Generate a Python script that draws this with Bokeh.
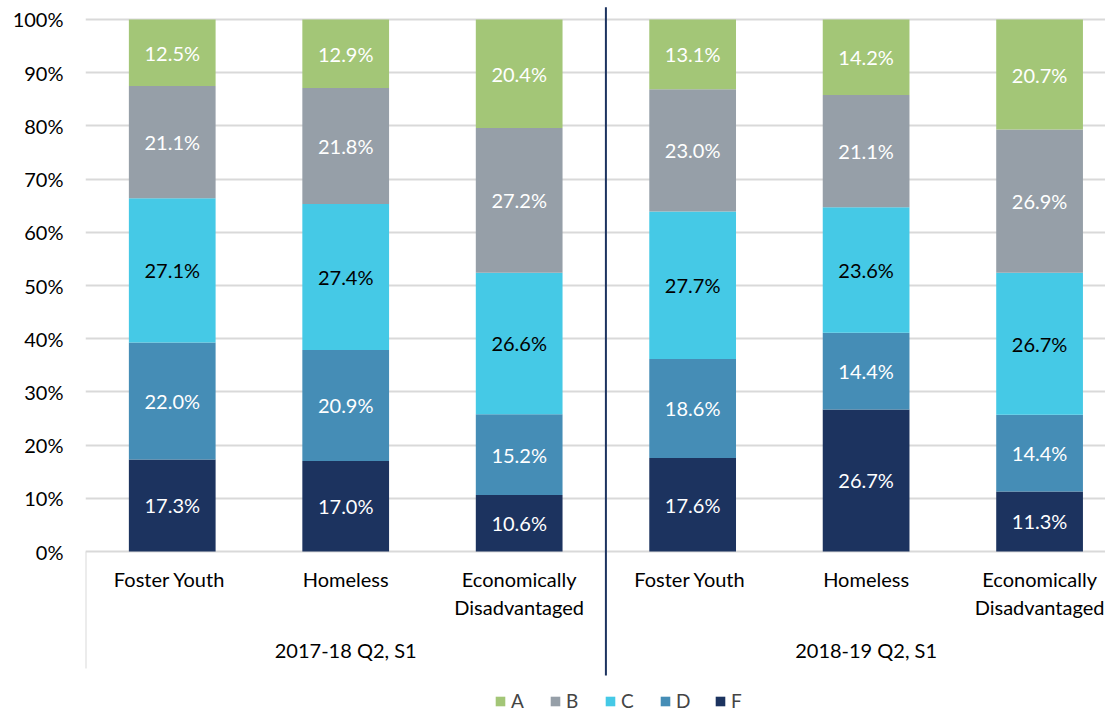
import numpy as np
from bokeh.plotting import figure
from bokeh.models import ColumnDataSource, Range1d, FixedTicker, Legend, LegendItem
from bokeh.core.properties import value
from bokeh.embed import file_html
from bokeh.resources import INLINE

# ---------------- data ----------------
groups = ["2017-18 Q2, S1", "2018-19 Q2, S1"]
categories = ["Foster  Youth", "Homeless", "Economically\nDisadvantaged"]
grades = ["A", "B", "C", "D", "F"]
A = [12.5, 12.9, 20.4, 13.1, 14.2, 20.7]
B = [21.1, 21.8, 27.2, 23.0, 21.1, 26.9]
C = [27.1, 27.4, 26.6, 27.7, 23.6, 26.7]
D = [22.0, 20.9, 15.2, 18.6, 14.4, 14.4]
F = [17.3, 17.0, 10.6, 17.6, 26.7, 11.3]
y_ticks = list(range(0, 101, 10))

colors = {"A": "#A3C677", "B": "#969FA8", "C": "#45C9E6", "D": "#458DB6", "F": "#1C335F"}
label_colors = {"A": "white", "B": "white", "C": "black", "D": "white", "F": "white"}
FONT = value("Lato")

series = {"A": A, "B": B, "C": C, "D": D, "F": F}
n = len(groups) * len(categories)
xs = np.arange(n) + 0.5

src = ColumnDataSource(dict(x=xs, **{g: series[g] for g in grades}))

Y_TOP = 103.57
Y_BOT = -30.26
p = figure(width=1105, height=712, output_backend="svg", toolbar_location=None,
           x_range=Range1d(0, 5.88), y_range=Range1d(Y_BOT, Y_TOP),
           min_border_left=85, min_border_right=0, min_border_top=0, min_border_bottom=0,
           x_axis_location=None)
p.outline_line_color = None
p.xgrid.visible = False
p.ygrid.grid_line_color = "#d9d9d9"
p.ygrid.grid_line_width = 2

yax = p.yaxis[0]
yax.ticker = FixedTicker(ticks=y_ticks)
yax.major_label_overrides = {t: f"{t}%" for t in y_ticks}
yax.axis_line_color = None
yax.major_tick_line_color = None
yax.minor_tick_line_color = None
yax.major_label_standoff = 16
yax.major_label_text_font = "Lato"
yax.major_label_text_font_size = "20px"
yax.major_label_text_color = "black"

stack_order = ["F", "D", "C", "B", "A"]
rends = p.vbar_stack(stack_order, x="x", width=0.5, color=[colors[g] for g in stack_order],
                     line_color=None, source=src)
rmap = dict(zip(stack_order, rends))

# segment labels
lx, ly, lt, lc = [], [], [], []
bottom = np.zeros(n)
for g in stack_order:
    vals = np.array(series[g])
    mid = bottom + vals / 2
    for i in range(n):
        lx.append(xs[i]); ly.append(mid[i]); lt.append(f"{vals[i]:.1f}%"); lc.append(label_colors[g])
    bottom = bottom + vals
lab = ColumnDataSource(dict(x=lx, y=ly, text=lt, color=lc))
p.text(x="x", y="y", text="text", text_color="color", source=lab, text_align="center",
       text_baseline="middle", text_font=FONT, text_font_size="20px")

# category labels
cat_src = ColumnDataSource(dict(x=xs, y=np.zeros(n), text=categories * len(groups)))
p.text(x="x", y="y", text="text", source=cat_src, text_align="center", text_baseline="top",
       y_offset=15, text_line_height=1.2, text_font=FONT, text_font_size="20px", text_color="black")

# group labels
gx = [i * len(categories) + len(categories) / 2 for i in range(len(groups))]
grp_src = ColumnDataSource(dict(x=gx, y=[0] * len(groups), text=groups))
p.text(x="x", y="y", text="text", source=grp_src, text_align="center", text_baseline="top",
       y_offset=86, text_font=FONT, text_font_size="20px", text_color="black")

# axis separators
p.segment(x0=[0], y0=[0], x1=[0], y1=[-22], line_color="#d9d9d9", line_width=2)
div_x = [len(categories) * i for i in range(1, len(groups))]
p.segment(x0=div_x, y0=[-23.3] * len(div_x), x1=div_x, y1=[102.3] * len(div_x),
          line_color="#1C335F", line_width=2)

legend = Legend(items=[LegendItem(label=g, renderers=[rmap[g]]) for g in grades],
                orientation="horizontal", location=(409, 0), padding=0, margin=0,
                spacing=18, label_standoff=5, glyph_width=12, glyph_height=12,
                label_height=16, label_text_font="Lato", label_text_font_size="19px",
                background_fill_alpha=0, border_line_alpha=0)
p.add_layout(legend)

open("out.html", "w").write(file_html(p, INLINE))
